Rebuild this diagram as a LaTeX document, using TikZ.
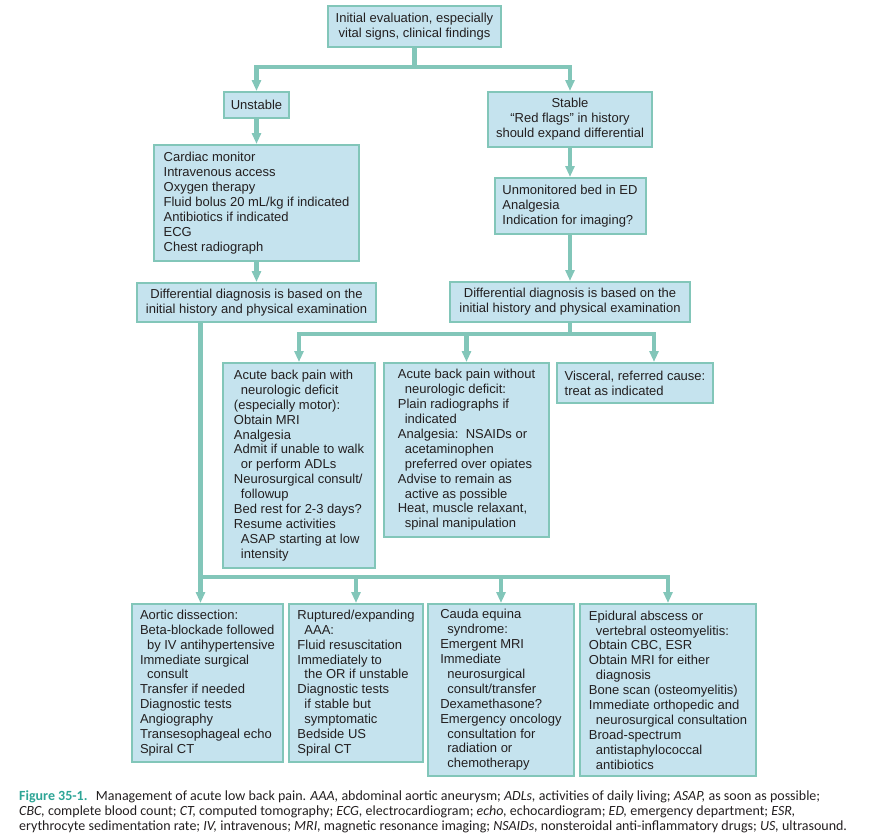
\documentclass[tikz,border=0pt]{standalone}
\usepackage{fontspec}
\setmainfont{Liberation Sans}
\newfontfamily\capfont{Carlito}
\usetikzlibrary{arrows.meta,positioning,calc}
\definecolor{flow}{HTML}{82C6B9}
\definecolor{boxfill}{HTML}{C5E3EE}
\definecolor{ink}{HTML}{231F20}
\definecolor{figlabel}{HTML}{2EA596}
\newcommand{\ind}{\hspace*{7pt}}
\tikzset{
  box/.style={draw=flow,line width=2pt,fill=boxfill,align=left,anchor=north west,inner sep=0pt,
    text=ink,font=\fontsize{13}{14.9}\selectfont},
  cbox/.style={box,align=center},
  arr/.style={-{Triangle[length=11pt,width=9pt]},line width=4.5pt,draw=flow},
  trunk/.style={line width=4.5pt,draw=flow}
}

\begin{document}
\begin{tikzpicture}[x=1pt,y=-1pt]
 \useasboundingbox (0,0) rectangle (876,839);
 \node[cbox,minimum width=173pt,minimum height=41pt] (init) at (327,5) {Initial evaluation, especially\\vital signs, clinical findings};
 \node[box,minimum width=65pt,minimum height=26pt] (unst) at (223,91) {Unstable};
 \node[cbox,minimum width=164pt,minimum height=55pt] (stab) at (487,91) {Stable\\“Red flags” in history\\should expand differential};
 \node[box,minimum width=205pt,minimum height=116pt] (card) at (153,144) {Cardiac monitor\\Intravenous access\\Oxygen therapy\\Fluid bolus 20 mL/kg if indicated\\Antibiotics if indicated\\ECG\\Chest radiograph};
 \node[box,minimum width=151pt,minimum height=56pt] (unm) at (493.5,177) {Unmonitored bed in ED\\Analgesia\\Indication for imaging?};
 \node[cbox,minimum width=239pt,minimum height=39pt] (dl) at (136,282) {Differential diagnosis is based on the\\initial history and physical examination};
 \node[cbox,minimum width=240pt,minimum height=40pt] (dr) at (449,281) {Differential diagnosis is based on the\\initial history and physical examination};
 \node[box,minimum width=152pt,minimum height=205pt] (neuro) at (222,362) {Acute back pain with\\\ind neurologic deficit\\(especially motor):\\Obtain MRI\\Analgesia\\Admit if unable to walk\\\ind or perform ADLs\\Neurosurgical consult/\\\ind followup\\Bed rest for 2-3 days?\\Resume activities\\\ind ASAP starting at low\\\ind intensity};
 \node[box,minimum width=165pt,minimum height=174pt] (noneuro) at (383,362) {Acute back pain without\\\ind neurologic deficit:\\Plain radiographs if\\\ind indicated\\Analgesia:\ \ NSAIDs or\\\ind acetaminophen\\\ind preferred over opiates\\Advise to remain as\\\ind active as possible\\Heat, muscle relaxant,\\\ind spinal manipulation};
 \node[box,minimum width=156pt,minimum height=40pt] (visc) at (556,362) {Visceral, referred cause:\\treat as indicated};
 \node[box,minimum width=151pt,minimum height=158pt] (aortic) at (131,603) {Aortic dissection:\\Beta-blockade followed\\\ind by IV antihypertensive\\Immediate surgical\\\ind consult\\Transfer if needed\\Diagnostic tests\\Angiography\\Transesophageal echo\\Spiral CT};
 \node[box,minimum width=134pt,minimum height=158pt] (aaa) at (288,603) {Ruptured/expanding\\\ind AAA:\\Fluid resuscitation\\Immediately to\\\ind the OR if unstable\\Diagnostic tests\\\ind if stable but\\\ind symptomatic\\Bedside US\\Spiral CT};
 \node[box,minimum width=146pt,minimum height=172pt] (cauda) at (427,603) {Cauda equina\\\ind syndrome:\\Emergent MRI\\Immediate\\\ind neurosurgical\\\ind consult/transfer\\Dexamethasone?\\Emergency oncology\\\ind consultation for\\\ind radiation or\\\ind chemotherapy};
 \node[box,minimum width=176pt,minimum height=172pt] (epi) at (579,603) {Epidural abscess or\\\ind vertebral osteomyelitis:\\Obtain CBC, ESR\\Obtain MRI for either\\\ind diagnosis\\Bone scan (osteomyelitis)\\Immediate orthopedic and\\\ind neurosurgical consultation\\Broad-spectrum\\\ind antistaphylococcal\\\ind antibiotics};
 \node[anchor=north west,inner sep=0pt,align=left,text=ink,font=\capfont\fontsize{14}{15.4}\selectfont] (cap) at (19,790) {\textcolor{figlabel}{\textbf{Figure 35-1.}}\hspace{0.3em} Management of acute low back pain. \textit{AAA,} abdominal aortic aneurysm; \textit{ADLs,} activities of daily living; \textit{ASAP,} as soon as possible;\\\textit{CBC,} complete blood count; \textit{CT,} computed tomography; \textit{ECG,} electrocardiogram; \textit{echo,} echocardiogram; \textit{ED,} emergency department; \textit{ESR,}\\erythrocyte sedimentation rate; \textit{IV,} intravenous; \textit{MRI,} magnetic resonance imaging; \textit{NSAIDs,} nonsteroidal anti-inflammatory drugs; \textit{US,} ultrasound.};
 \coordinate (split) at (init.south |- 0,67);
 \draw[trunk] (init) -- (split);
 \draw[arr] (split) -| (unst);
 \draw[arr] (split) -| (stab);
 \draw[arr] (unst) -- (card);
 \draw[arr] (card) -- (dl);
 \draw[arr] (stab) -- (unm);
 \draw[arr] (unm) -- (dr);
 \coordinate (fork) at (dr.south |- 0,334);
 \draw[trunk] (dr) -- (fork);
 \draw[arr] (fork) -| (neuro);
 \draw[arr] (fork) -| (noneuro);
 \draw[arr] (fork) -| ([xshift=19pt]visc.north);
 \coordinate (drop) at ([xshift=-56pt]dl.south);
 \coordinate (bend) at (drop |- 0,577);
 \draw[arr] (drop) -- (bend |- aortic.north);
 \draw[arr] (bend) -| (aaa);
 \draw[arr] (bend) -| (cauda);
 \draw[arr] (bend) -| (epi);
\end{tikzpicture}
\end{document}
